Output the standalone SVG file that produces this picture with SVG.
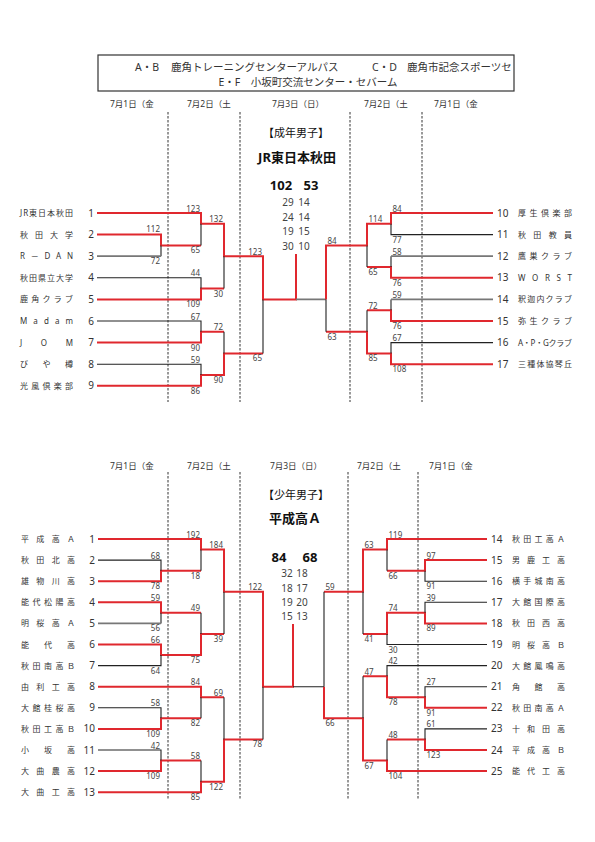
<svg xmlns="http://www.w3.org/2000/svg" width="595" height="842" viewBox="0 0 595 842">
<style>
text{font-family:"Noto Sans","Noto Sans CJK JP",sans-serif;fill:#333}
.r{stroke:#e0282e;stroke-width:2;fill:none}
.k{stroke:#222;stroke-width:1.1;fill:none}
.g{stroke:#777;stroke-width:1.8;fill:none}
.d{stroke:#333;stroke-width:1;stroke-dasharray:2.5 1.5}
.s{font-size:8px;fill:#444}
.se{font-size:8px;fill:#444;text-anchor:end}
.nm{font-size:8px}
.no{font-size:10px}
.ne{font-size:10px;text-anchor:end}
.dt{font-size:8.5px}
.q{font-size:10px;fill:#444;text-anchor:middle}
.big{font-size:13px;font-weight:bold;fill:#111;text-anchor:middle}
.ttl{font-size:11px;fill:#111;text-anchor:middle}
</style>
<defs><clipPath id="hc"><rect x="98" y="55" width="414" height="36"/></clipPath></defs>
<rect width="595" height="842" fill="#fff"/>
<g id="header">
<rect x="98" y="55" width="416" height="36" fill="none" stroke="#333" stroke-width="1.2"/>
<g clip-path="url(#hc)">
<text x="135" y="71" font-size="10.5">A・B</text>
<text x="171" y="71" font-size="10.5">鹿角トレーニングセンターアルパス</text>
<text x="372" y="71" font-size="10.5">C・D</text>
<text x="407" y="71" font-size="10.5">鹿角市記念スポーツセ</text>
</g>
<text x="308" y="86" font-size="10.5" text-anchor="middle">E・F　小坂町交流センター・セバーム</text>
</g>
<g id="dates">
<text class="dt" x="110" y="107">7月1日（金</text>
<text class="dt" x="187" y="107">7月2日（土</text>
<text class="dt" x="298" y="107" text-anchor="middle">7月3日（日）</text>
<text class="dt" x="364" y="107">7月2日（土</text>
<text class="dt" x="434" y="107">7月1日（金</text>
<text class="dt" x="110" y="469">7月1日（金</text>
<text class="dt" x="187" y="469">7月2日（土</text>
<text class="dt" x="296" y="469" text-anchor="middle">7月3日（日）</text>
<text class="dt" x="357" y="469">7月2日（土</text>
<text class="dt" x="429" y="469">7月1日（金</text>
</g>
<g id="dividers">
<path class="d" d="M168,112V402M240,112V402M350,112V402M422,112V402"/>
<path class="d" d="M168,472V800M240,472V800M348,472V800M418,472V800"/>
</g>
<g id="center-upper">
<text class="ttl" x="296" y="137">【成年男子】</text>
<text class="big" x="297" y="162">JR東日本秋田</text>
<text class="big" x="281" y="190">102</text>
<text class="big" x="311" y="190">53</text>
<text class="q" x="288" y="206">29</text><text class="q" x="304" y="206">14</text>
<text class="q" x="288" y="221">24</text><text class="q" x="304" y="221">14</text>
<text class="q" x="288" y="235">19</text><text class="q" x="304" y="235">15</text>
<text class="q" x="288" y="250">30</text><text class="q" x="304" y="250">10</text>
</g>
<g id="center-lower">
<text class="ttl" x="296" y="499">【少年男子】</text>
<text class="big" x="295" y="523">平成高Ａ</text>
<text class="big" x="279" y="562">84</text>
<text class="big" x="310" y="562">68</text>
<text class="q" x="287" y="577">32</text><text class="q" x="302" y="577">18</text>
<text class="q" x="287" y="592">18</text><text class="q" x="302" y="592">17</text>
<text class="q" x="287" y="606">19</text><text class="q" x="302" y="606">20</text>
<text class="q" x="287" y="620">15</text><text class="q" x="302" y="620">13</text>
</g>
<g id="connectors">
<path class="r" d="M97,213H201V223.8H224V256.2H263V299.4H296V254"/>
<path class="r" d="M97,234.6H161V245.4H201"/>
<path class="r" d="M97,299.4H201V288.6H224"/>
<path class="r" d="M97,342.6H201V331.8H224"/>
<path class="r" d="M97,385.8H201V375H224V353.4H263"/>
<path class="k" d="M161,245.4V256.2M201,223.8V245.4M97,277.8H201V288.6M97,321H201V331.8M97,364.2H201V375M224,256.2V288.6M224,331.8V353.4M263,299.4V353.4"/>
<path class="g" d="M97,256.2H161M296,299.4H326"/>
<path class="r" d="M493,213H391V223.8H367V245.4H326V299.4"/>
<path class="r" d="M493,277.8H391V267H367"/>
<path class="r" d="M493,321H391V310.2H367"/>
<path class="r" d="M493,364.2H391V353.4H367V331.8H326"/>
<path class="k" d="M493,234.6H391V223.8M391,256.2V267M391,299.4V310.2M493,342.6H391V353.4M367,245.4V267M367,310.2V331.8M326,299.4V331.8"/>
<path class="g" d="M493,256.2H391M493,299.4H391"/>
<path class="r" d="M98,539H201V549.55H224V591.75H263V686.7H293V624"/>
<path class="r" d="M98,581.2H161V570.65H201"/>
<path class="r" d="M98,602.3H161V612.85H201"/>
<path class="r" d="M98,644.5H161V655.05H201V633.95H224"/>
<path class="r" d="M98,686.7H201V697.25H224"/>
<path class="r" d="M98,728.9H161V718.35H201"/>
<path class="r" d="M98,771.1H161V760.55H201"/>
<path class="r" d="M98,792.2H201V781.65H224V739.45H263"/>
<path class="k" d="M98,560.1H161V570.65M201,549.55V570.65M161,612.85V623.4M98,665.6H161V655.05M201,612.85V633.95M224,591.75V633.95M98,707.8H161V718.35M201,697.25V718.35M98,750H161V760.55M201,760.55V781.65M224,697.25V739.45M263,686.7V739.45M293,686.7H324"/>
<path class="g" d="M98,623.4H161"/>
<path class="r" d="M487,539H387V549.55H363V591.75H324"/>
<path class="r" d="M487,560.1H425V570.65H387"/>
<path class="r" d="M487,623.4H425V612.85H387V633.95H363"/>
<path class="r" d="M487,707.8H425V697.25H387V676.15H363"/>
<path class="r" d="M487,750H425V739.45H387"/>
<path class="r" d="M487,771.1H387V760.55H363V718.35H324V686.7"/>
<path class="k" d="M487,581.2H425V570.65M387,549.55V570.65M487,602.3H425V612.85M487,644.5H387V633.95M363,591.75V633.95M487,665.6H387V676.15M487,686.7H425V697.25M487,728.9H425V739.45M387,739.45V760.55M363,676.15V718.35M324,591.75V686.7"/>
</g>
<g id="scores">
<text class="se" x="160" y="232">112</text><text class="se" x="160" y="264">72</text>
<text class="se" x="200" y="211.5">123</text><text class="se" x="200" y="253.4">65</text>
<text class="se" x="200" y="276.3">44</text><text class="se" x="200" y="307.4">109</text>
<text class="se" x="200" y="319.5">67</text><text class="se" x="200" y="350.6">90</text>
<text class="se" x="200" y="362.7">59</text><text class="se" x="200" y="393.8">86</text>
<text class="se" x="223" y="222.3">132</text><text class="se" x="223" y="296.6">30</text>
<text class="se" x="223" y="330.3">72</text><text class="se" x="223" y="383">90</text>
<text class="se" x="262" y="254.7">123</text><text class="se" x="262" y="361.4">65</text>
<text class="s" x="392.5" y="211.5">84</text><text class="s" x="392.5" y="242.6">77</text>
<text class="s" x="392.5" y="254.7">58</text><text class="s" x="392.5" y="285.8">76</text>
<text class="s" x="392.5" y="297.9">59</text><text class="s" x="392.5" y="329">76</text>
<text class="s" x="392.5" y="341.1">67</text><text class="s" x="392.5" y="372.2">108</text>
<text class="s" x="368.5" y="222.3">114</text><text class="s" x="368.5" y="275">65</text>
<text class="s" x="368.5" y="308.7">72</text><text class="s" x="368.5" y="361.4">85</text>
<text class="s" x="327.5" y="243.9">84</text><text class="s" x="327.5" y="339.8">63</text>
<text class="se" x="160" y="558.6">68</text><text class="se" x="160" y="589.2">78</text>
<text class="se" x="160" y="600.8">59</text><text class="se" x="160" y="631.4">56</text>
<text class="se" x="160" y="643">66</text><text class="se" x="160" y="673.6">64</text>
<text class="se" x="160" y="706.3">58</text><text class="se" x="160" y="736.9">109</text>
<text class="se" x="160" y="748.5">42</text><text class="se" x="160" y="779.1">109</text>
<text class="se" x="200" y="537.5">192</text><text class="se" x="200" y="578.6">18</text>
<text class="se" x="200" y="611.3">49</text><text class="se" x="200" y="663">75</text>
<text class="se" x="200" y="685.2">84</text><text class="se" x="200" y="726.3">82</text>
<text class="se" x="200" y="759">58</text><text class="se" x="200" y="800.2">85</text>
<text class="se" x="223" y="548">184</text><text class="se" x="223" y="641.9">39</text>
<text class="se" x="223" y="695.7">69</text><text class="se" x="223" y="789.6">122</text>
<text class="se" x="262" y="590.2">122</text><text class="se" x="262" y="747.4">78</text>
<text class="s" x="426.5" y="558.6">97</text><text class="s" x="426.5" y="589.2">91</text>
<text class="s" x="426.5" y="600.8">39</text><text class="s" x="426.5" y="631.4">89</text>
<text class="s" x="426.5" y="685.2">27</text><text class="s" x="426.5" y="715.8">91</text>
<text class="s" x="426.5" y="727.4">61</text><text class="s" x="426.5" y="758">123</text>
<text class="s" x="388.5" y="537.5">119</text><text class="s" x="388.5" y="578.6">66</text>
<text class="s" x="388.5" y="611.3">74</text><text class="s" x="388.5" y="652.5">30</text>
<text class="s" x="388.5" y="664.1">42</text><text class="s" x="388.5" y="705.2">78</text>
<text class="s" x="388.5" y="737.9">48</text><text class="s" x="388.5" y="779.1">104</text>
<text class="s" x="364.5" y="548">63</text><text class="s" x="364.5" y="641.9">41</text>
<text class="s" x="364.5" y="674.6">47</text><text class="s" x="364.5" y="768.5">67</text>
<text class="s" x="325.5" y="590.2">59</text><text class="s" x="325.5" y="726.3">66</text>
</g>
<g id="u1"><text class="nm" x="20" y="216" textLength="53" lengthAdjust="spacing">JR東日本秋田</text><text class="ne" x="94" y="216.5">1</text></g>
<g id="u2"><text class="nm" x="20" y="237.6" textLength="53" lengthAdjust="spacing">秋田大学</text><text class="ne" x="94" y="238.1">2</text></g>
<g id="u3"><text class="nm" x="20" y="259.2" textLength="53" lengthAdjust="spacing">R－DAN</text><text class="ne" x="94" y="259.7">3</text></g>
<g id="u4"><text class="nm" x="20" y="280.8" textLength="53" lengthAdjust="spacing">秋田県立大学</text><text class="ne" x="94" y="281.3">4</text></g>
<g id="u5"><text class="nm" x="20" y="302.4" textLength="53" lengthAdjust="spacing">鹿角クラブ</text><text class="ne" x="94" y="302.9">5</text></g>
<g id="u6"><text class="nm" x="20" y="324" textLength="53" lengthAdjust="spacing">Madam</text><text class="ne" x="94" y="324.5">6</text></g>
<g id="u7"><text class="nm" x="20" y="345.6" textLength="53" lengthAdjust="spacing">JOM</text><text class="ne" x="94" y="346.1">7</text></g>
<g id="u8"><text class="nm" x="20" y="367.2" textLength="53" lengthAdjust="spacing">びや樽</text><text class="ne" x="94" y="367.7">8</text></g>
<g id="u9"><text class="nm" x="20" y="388.8" textLength="53" lengthAdjust="spacing">光風倶楽部</text><text class="ne" x="94" y="389.3">9</text></g>
<g id="u10"><text class="no" x="497" y="216.5">10</text><text class="nm" x="518" y="216" textLength="54" lengthAdjust="spacing">厚生倶楽部</text></g>
<g id="u11"><text class="no" x="497" y="238.1">11</text><text class="nm" x="518" y="237.6" textLength="54" lengthAdjust="spacing">秋田教員</text></g>
<g id="u12"><text class="no" x="497" y="259.7">12</text><text class="nm" x="518" y="259.2" textLength="54" lengthAdjust="spacing">鷹巣クラブ</text></g>
<g id="u13"><text class="no" x="497" y="281.3">13</text><text class="nm" x="518" y="280.8" textLength="54" lengthAdjust="spacing">WORST</text></g>
<g id="u14"><text class="no" x="497" y="302.9">14</text><text class="nm" x="518" y="302.4" textLength="54" lengthAdjust="spacing">釈迦内クラブ</text></g>
<g id="u15"><text class="no" x="497" y="324.5">15</text><text class="nm" x="518" y="324" textLength="54" lengthAdjust="spacing">弥生クラブ</text></g>
<g id="u16"><text class="no" x="497" y="346.1">16</text><text class="nm" x="518" y="345.6" textLength="54" lengthAdjust="spacing">A・P・Gクラブ</text></g>
<g id="u17"><text class="no" x="497" y="367.7">17</text><text class="nm" x="518" y="367.2" textLength="54" lengthAdjust="spacing">三種体協琴丘</text></g>
<g id="l1"><text class="nm" x="21" y="542" textLength="54" lengthAdjust="spacing">平成高Ａ</text><text class="ne" x="95" y="542.5">1</text></g>
<g id="l2"><text class="nm" x="21" y="563.1" textLength="54" lengthAdjust="spacing">秋田北高</text><text class="ne" x="95" y="563.6">2</text></g>
<g id="l3"><text class="nm" x="21" y="584.2" textLength="54" lengthAdjust="spacing">雄物川高</text><text class="ne" x="95" y="584.7">3</text></g>
<g id="l4"><text class="nm" x="21" y="605.3" textLength="54" lengthAdjust="spacing">能代松陽高</text><text class="ne" x="95" y="605.8">4</text></g>
<g id="l5"><text class="nm" x="21" y="626.4" textLength="54" lengthAdjust="spacing">明桜高Ａ</text><text class="ne" x="95" y="626.9">5</text></g>
<g id="l6"><text class="nm" x="21" y="647.5" textLength="54" lengthAdjust="spacing">能代高</text><text class="ne" x="95" y="648">6</text></g>
<g id="l7"><text class="nm" x="21" y="668.6" textLength="54" lengthAdjust="spacing">秋田南高Ｂ</text><text class="ne" x="95" y="669.1">7</text></g>
<g id="l8"><text class="nm" x="21" y="689.7" textLength="54" lengthAdjust="spacing">由利工高</text><text class="ne" x="95" y="690.2">8</text></g>
<g id="l9"><text class="nm" x="21" y="710.8" textLength="54" lengthAdjust="spacing">大館桂桜高</text><text class="ne" x="95" y="711.3">9</text></g>
<g id="l10"><text class="nm" x="21" y="731.9" textLength="54" lengthAdjust="spacing">秋田工高Ｂ</text><text class="ne" x="95" y="732.4">10</text></g>
<g id="l11"><text class="nm" x="21" y="753" textLength="54" lengthAdjust="spacing">小坂高</text><text class="ne" x="95" y="753.5">11</text></g>
<g id="l12"><text class="nm" x="21" y="774.1" textLength="54" lengthAdjust="spacing">大曲農高</text><text class="ne" x="95" y="774.6">12</text></g>
<g id="l13"><text class="nm" x="21" y="795.2" textLength="54" lengthAdjust="spacing">大曲工高</text><text class="ne" x="95" y="795.7">13</text></g>
<g id="l14"><text class="no" x="491" y="542.5">14</text><text class="nm" x="512" y="542" textLength="53" lengthAdjust="spacing">秋田工高Ａ</text></g>
<g id="l15"><text class="no" x="491" y="563.6">15</text><text class="nm" x="512" y="563.1" textLength="53" lengthAdjust="spacing">男鹿工高</text></g>
<g id="l16"><text class="no" x="491" y="584.7">16</text><text class="nm" x="512" y="584.2" textLength="53" lengthAdjust="spacing">横手城南高</text></g>
<g id="l17"><text class="no" x="491" y="605.8">17</text><text class="nm" x="512" y="605.3" textLength="53" lengthAdjust="spacing">大館国際高</text></g>
<g id="l18"><text class="no" x="491" y="626.9">18</text><text class="nm" x="512" y="626.4" textLength="53" lengthAdjust="spacing">秋田西高</text></g>
<g id="l19"><text class="no" x="491" y="648">19</text><text class="nm" x="512" y="647.5" textLength="53" lengthAdjust="spacing">明桜高Ｂ</text></g>
<g id="l20"><text class="no" x="491" y="669.1">20</text><text class="nm" x="512" y="668.6" textLength="53" lengthAdjust="spacing">大館鳳鳴高</text></g>
<g id="l21"><text class="no" x="491" y="690.2">21</text><text class="nm" x="512" y="689.7" textLength="53" lengthAdjust="spacing">角館高</text></g>
<g id="l22"><text class="no" x="491" y="711.3">22</text><text class="nm" x="512" y="710.8" textLength="53" lengthAdjust="spacing">秋田南高Ａ</text></g>
<g id="l23"><text class="no" x="491" y="732.4">23</text><text class="nm" x="512" y="731.9" textLength="53" lengthAdjust="spacing">十和田高</text></g>
<g id="l24"><text class="no" x="491" y="753.5">24</text><text class="nm" x="512" y="753" textLength="53" lengthAdjust="spacing">平成高Ｂ</text></g>
<g id="l25"><text class="no" x="491" y="774.6">25</text><text class="nm" x="512" y="774.1" textLength="53" lengthAdjust="spacing">能代工高</text></g>
</svg>
